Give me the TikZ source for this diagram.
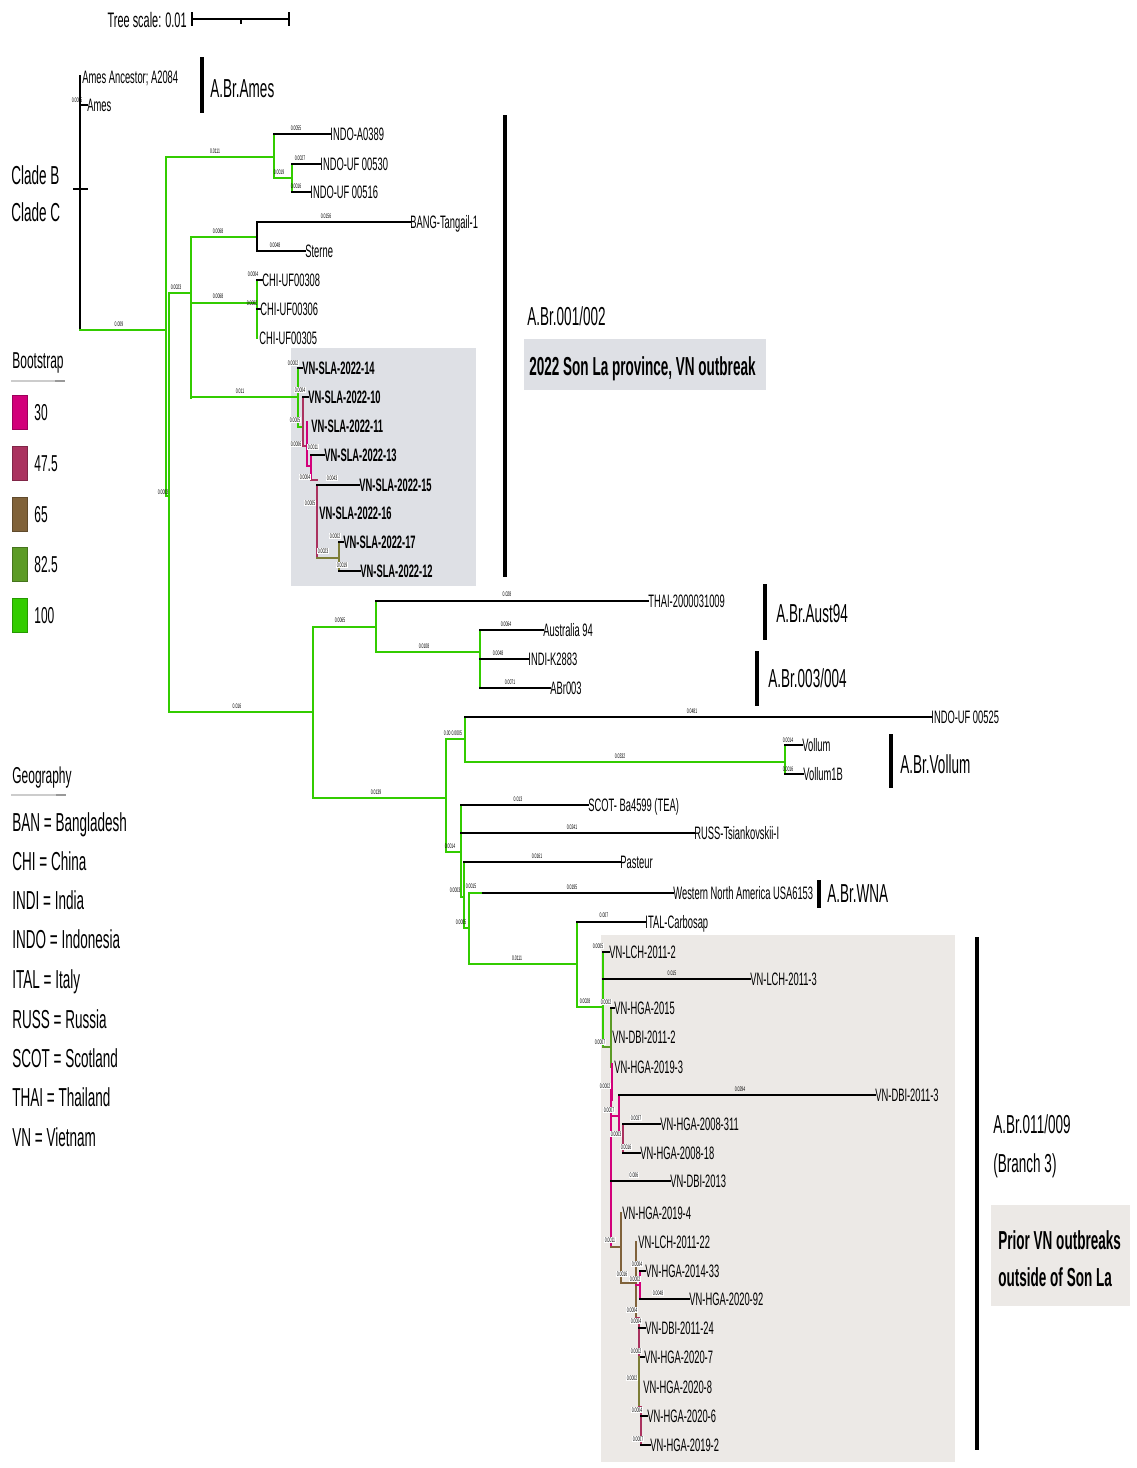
\documentclass[tikz,border=0pt]{standalone}
\usepackage{fontspec}
\setmainfont{Liberation Sans}[FakeStretch=0.52]
\definecolor{c100}{RGB}{51,204,0}
\definecolor{c82}{RGB}{92,155,38}
\definecolor{c65}{RGB}{128,98,58}
\definecolor{c47}{RGB}{170,50,95}
\definecolor{c30}{RGB}{210,0,122}
\definecolor{colv}{RGB}{125,125,55}
\definecolor{slabg}{RGB}{222,224,229}
\definecolor{vnbg}{RGB}{236,233,230}
\begin{document}
\begin{tikzpicture}[x=0.5pt,y=-0.5pt,
 lf/.style={anchor=west,inner sep=0pt,font=\fontsize{9}{9}\selectfont,text height=6.4pt,text depth=0pt},
 slf/.style={lf,font=\fontsize{9}{9}\selectfont\bfseries},
 cl/.style={anchor=west,inner sep=0pt,font=\fontsize{13}{13}\selectfont,text height=9.3pt,text depth=0pt},
 clb/.style={cl,font=\fontsize{13}{13}\selectfont\bfseries},
 lg/.style={anchor=west,inner sep=0pt,font=\fontsize{11.5}{11.5}\selectfont,text height=8.2pt,text depth=0pt},
 bl/.style={inner sep=0.2pt,font=\fontsize{3.3}{3.3}\selectfont},
 blw/.style={bl,fill=white},
 br/.style={line width=1.4pt,line cap=rect},
 bk/.style={br,draw=black},
 bg/.style={br,draw=c100},
 b82/.style={br,draw=c82},
 b65/.style={br,draw=c65},
 b47/.style={br,draw=c47},
 b30/.style={br,draw=c30},
 bol/.style={br,draw=colv},
 cbar/.style={line width=1.7pt},
]
\useasboundingbox (0,0) rectangle (1136,1468);
% backgrounds
\fill[slabg] (291,348) rectangle (476,586);
\fill[vnbg] (601,935) rectangle (955,1462);
\fill[slabg] (524,339) rectangle (766,390);
\fill[vnbg] (991,1205) rectangle (1130,1306);

% tree scale
\node[anchor=east,inner sep=0pt,font=\fontsize{10.5}{10.5}\selectfont,text height=7.5pt,text depth=0pt] (tscale) at (187,20) {Tree scale: 0.01};
\coordinate (sb1) at (192,19); \coordinate (sb2) at (289,19); \coordinate (sbm) at (241,19);
\draw[line width=1.1pt] (sb1) -- (sb2);
\draw[line width=1.1pt] ([yshift=3.5pt]sb1) -- ([yshift=-3.5pt]sb1);
\draw[line width=1.1pt] ([yshift=3.5pt]sb2) -- ([yshift=-3.5pt]sb2);
\draw[line width=0.8pt] (sbm) -- ([yshift=-2.5pt]sbm);

% root
\draw[line width=1.1pt] (80,75) -- (80,330);
\node[lf] (amesanc) at (82,77) {Ames Ancestor; A2084};
\node[lf] (ames) at (87,105) {Ames};
\draw[bk] (80,105) -- (ames.west);
\node[bl] (l01) at (77,100) {0.0005};
\draw[line width=1.1pt] (73,189) -- (88,189);
\node[cl] (cladeb) at (11,175) {Clade B};
\node[cl] (cladec) at (11,212) {Clade C};
\draw[cbar] (202,57) -- (202,113);
\node[cl] (brames) at (210,88) {A.Br.Ames};

\draw[bg] (80,330) -- (166,330); \node[bl] (l02) at (119,324) {0.009};
\draw[bg] (166,157) -- (166,496);
% INDO clade
\draw[bg] (166,157) -- (274,157); \node[bl] (l03) at (215,151) {0.0111};
\draw[bg] (274,134) -- (274,178);
\node[lf] (indoa) at (330,134) {INDO-A0389};
\draw[bk] (274,134) -- (indoa.west); \node[bl] (l04) at (296,128) {0.0055};
\draw[bg] (274,178) -- (292,178); \node[bl] (l05) at (279,172) {0.0019};
\draw[bg] (292,164) -- (292,192);
\node[lf] (indo530) at (320,164) {INDO-UF 00530};
\draw[bk] (292,164) -- (indo530.west); \node[bl] (l06) at (300,158) {0.0027};
\node[lf] (indo516) at (310,192) {INDO-UF 00516};
\draw[bk] (292,192) -- (indo516.west); \node[bl] (l07) at (296,186) {0.0016};

% N2
\draw[bg] (166,496) -- (169,496); \node[bl] (l08) at (163,492) {0.0003};
\draw[bg] (169,293) -- (169,712);
\draw[bg] (169,293) -- (191,293); \node[bl] (l09) at (176,287) {0.0023};
\draw[bg] (191,237) -- (191,398);
\draw[bg] (191,237) -- (257,237); \node[bl] (l10) at (218,231) {0.0068};
\draw[bk] (257,222) -- (257,251);
\node[lf] (bang) at (410,222) {BANG-Tangail-1};
\draw[bk] (257,222) -- (bang.west); \node[bl] (l11) at (326,216) {0.0156};
\node[lf] (sterne) at (305,251) {Sterne};
\draw[bk] (257,251) -- (sterne.west); \node[bl] (l12) at (275,245) {0.0048};
\draw[bg] (191,303) -- (257,303); \node[bl] (l13) at (218,296) {0.0068};
\draw[bg] (257,280) -- (257,338);
\node[lf] (chi308) at (262,280) {CHI-UF00308};
\draw[bk] (257,280) -- (chi308.west); \node[bl] (l14) at (253,274) {0.0004};
\node[lf] (chi306) at (260,309) {CHI-UF00306};
\draw[bk] (257,309) -- (chi306.west); \node[bl] (l15) at (252,303) {0.0002};
\node[lf] (chi305) at (259,338) {CHI-UF00305};

% SLA clade
\draw[bg] (191,397) -- (298,397); \node[bl] (l16) at (240,391) {0.011};
\draw[bg] (298,368) -- (298,427);
\draw[bg] (298,427) -- (303,427);
\node[slf] (sla14) at (302,368) {VN-SLA-2022-14};
\draw[bk] (298,368) -- (sla14.west);
\draw[b47] (303,397) -- (303,446);
\node[slf] (sla10) at (308,397) {VN-SLA-2022-10};
\draw[bk] (303,397) -- (sla10.west);
\draw[b47] (303,446) -- (307,446);
\draw[b30] (307,422) -- (307,466);
\node[slf] (sla11) at (311,426) {VN-SLA-2022-11};
\draw[b30] (307,466) -- (311,466);
\draw[b30] (311,455) -- (311,480);
\node[slf] (sla13) at (324,455) {VN-SLA-2022-13};
\draw[bk] (311,455) -- (sla13.west);
\draw[b47] (311,480) -- (317,480);
\draw[b47] (317,485) -- (317,558);
\node[slf] (sla15) at (359,485) {VN-SLA-2022-15};
\draw[bk] (317,485) -- (sla15.west);
\node[slf] (sla16) at (319,513) {VN-SLA-2022-16};
\draw[bol] (317,558) -- (339,558);
\draw[bol] (339,542) -- (339,571);
\node[slf] (sla17) at (343,542) {VN-SLA-2022-17};
\draw[bk] (339,542) -- (sla17.west);
\node[slf] (sla12) at (360,571) {VN-SLA-2022-12};
\draw[bk] (339,571) -- (sla12.west);
\node[blw] (s1) at (293,363) {0.0002};
\node[blw] (s2) at (300,390) {0.0004};
\node[blw] (s3) at (295,420) {0.0005};
\node[blw] (s4) at (296,444) {0.0006};
\node[blw] (s5) at (313,447) {0.0011};
\node[blw] (s6) at (305,477) {0.0004};
\node[blw] (s7) at (332,478) {0.0043};
\node[blw] (s8) at (310,503) {0.0005};
\node[blw] (s9) at (335,536) {0.0002};
\node[blw] (s10) at (323,551) {0.0023};
\node[blw] (s11) at (342,565) {0.0019};

\draw[cbar] (505,115) -- (505,577);
\node[cl] (br001) at (527,316) {A.Br.001/002};
\node[clb] (sonla) at (529,366) {2022 Son La province, VN outbreak};

% lower part
\draw[bg] (169,712) -- (313,712); \node[bl] (l17) at (237,706) {0.016};
\draw[bg] (313,627) -- (313,798);
\draw[bg] (313,627) -- (376,627); \node[bl] (l18) at (340,620) {0.0065};
\draw[bg] (376,601) -- (376,652);
\node[lf] (thai) at (648,601) {THAI-2000031009};
\draw[bk] (376,601) -- (thai.west); \node[bl] (l19) at (507,594) {0.028};
\draw[bg] (376,652) -- (480,652); \node[bl] (l20) at (424,646) {0.0108};
\draw[bg] (480,630) -- (480,688);
\node[lf] (aus) at (543,630) {Australia 94};
\draw[bk] (480,630) -- (aus.west); \node[bl] (l21) at (506,624) {0.0064};
\node[lf] (indi) at (528,659) {INDI-K2883};
\draw[bk] (480,659) -- (indi.west); \node[bl] (l22) at (498,653) {0.0048};
\node[lf] (abr) at (550,688) {ABr003};
\draw[bk] (480,688) -- (abr.west); \node[bl] (l23) at (510,682) {0.0071};
\draw[cbar] (765,584) -- (765,640);
\node[cl] (aust94) at (776,613) {A.Br.Aust94};
\draw[cbar] (757,651) -- (757,706);
\node[cl] (br003) at (768,678) {A.Br.003/004};

\draw[bg] (313,798) -- (446,798); \node[bl] (l24) at (376,792) {0.0139};
\draw[bg] (446,739) -- (446,852);
\draw[bg] (446,739) -- (465,739); \node[bl] (l25) at (453,733) {0.00 0.0005};
\draw[bg] (465,717) -- (465,762);
\node[lf] (indo525) at (931,717) {INDO-UF 00525};
\draw[bk] (465,717) -- (indo525.west); \node[bl] (l26) at (692,711) {0.0481};
\draw[bg] (465,762) -- (785,762); \node[bl] (l27) at (620,756) {0.0332};
\draw[bg] (785,745) -- (785,774);
\node[lf] (vollum) at (802,745) {Vollum};
\draw[bk] (785,745) -- (vollum.west); \node[bl] (l28) at (788,740) {0.0014};
\node[lf] (vollum1b) at (803,774) {Vollum1B};
\draw[bk] (785,774) -- (vollum1b.west); \node[bl] (l29) at (788,769) {0.0016};
\draw[cbar] (891,734) -- (891,788);
\node[cl] (brvollum) at (900,764) {A.Br.Vollum};

\draw[bg] (446,852) -- (461,852); \node[bl] (l30) at (450,846) {0.0014};
\draw[bg] (461,805) -- (461,897);
\node[lf] (scot) at (588,805) {SCOT- Ba4599 (TEA)};
\draw[bk] (461,805) -- (scot.west); \node[bl] (l31) at (518,799) {0.013};
\node[lf] (russ) at (694,833) {RUSS-Tsiankovskii-I};
\draw[bk] (461,833) -- (russ.west); \node[bl] (l32) at (572,827) {0.0241};
\draw[bg] (461,897) -- (464,897); \node[bl] (l33) at (455,890) {0.0003};
\draw[bg] (464,862) -- (464,928);
\node[lf] (pasteur) at (620,862) {Pasteur};
\draw[bk] (464,862) -- (pasteur.west); \node[bl] (l34) at (537,856) {0.0161};
\draw[bg] (464,928) -- (469,928); \node[bl] (l35) at (461,922) {0.0005};
\draw[bg] (469,893) -- (469,964);
\node[lf] (wna) at (673,893) {Western North America USA6153};
\draw[bg] (469,893) -- (483,893);
\draw[bk] (483,893) -- (wna.west);
\node[bl] (l36) at (471,886) {0.0015};
\node[bl] (l37) at (572,887) {0.0195};
\draw[cbar] (819,880) -- (819,908);
\node[cl] (brwna) at (827,893) {A.Br.WNA};
\draw[bg] (469,964) -- (577,964); \node[bl] (l38) at (517,958) {0.0111};
\draw[bg] (577,922) -- (577,1007);
\node[lf] (ital) at (645,922) {ITAL-Carbosap};
\draw[bk] (577,922) -- (ital.west); \node[bl] (l39) at (604,915) {0.007};
\draw[bg] (577,1007) -- (603,1007); \node[bl] (l40) at (585,1001) {0.0028};

% VN clade
\draw[bg] (603,952) -- (603,1047);
\node[lf] (lch2) at (609,952) {VN-LCH-2011-2};
\draw[bk] (603,952) -- (lch2.west);
\node[lf] (lch3) at (750,979) {VN-LCH-2011-3};
\draw[bk] (603,979) -- (lch3.west);
\draw[b82] (603,1047) -- (611,1047);
\draw[b82] (611,1008) -- (611,1067);
\node[lf] (hga2015) at (614,1008) {VN-HGA-2015};
\draw[bk] (611,1008) -- (hga2015.west);
\node[lf] (dbi2) at (612,1037) {VN-DBI-2011-2};
\node[lf] (hga193) at (614,1067) {VN-HGA-2019-3};
\draw[b30] (612,1064) -- (612,1100);
\draw[b30] (611,1085) -- (611,1247);
\draw[b30] (611,1116) -- (619,1116);
\draw[b30] (619,1095) -- (619,1132);
\node[lf] (dbi3) at (875,1095) {VN-DBI-2011-3};
\draw[bk] (619,1095) -- (dbi3.west);
\draw[b47] (619,1132) -- (623,1132);
\draw[b47] (623,1124) -- (623,1153);
\node[lf] (hga311) at (660,1124) {VN-HGA-2008-311};
\draw[bk] (623,1124) -- (hga311.west);
\node[lf] (hga18) at (640,1153) {VN-HGA-2008-18};
\draw[bk] (623,1153) -- (hga18.west);
\node[lf] (dbi2013) at (670,1181) {VN-DBI-2013};
\draw[bk] (611,1181) -- (dbi2013.west);
\draw[b65] (611,1247) -- (621,1247);
\draw[b65] (621,1213) -- (621,1283);
\node[lf] (hga194) at (622,1213) {VN-HGA-2019-4};
\draw[b65] (621,1283) -- (636,1283);
\draw[b65] (636,1242) -- (636,1318);
\node[lf] (lch22) at (638,1242) {VN-LCH-2011-22};
\draw[b30] (636,1285) -- (640,1285);
\draw[b30] (640,1271) -- (640,1299);
\node[lf] (hga1433) at (645,1271) {VN-HGA-2014-33};
\draw[bk] (640,1271) -- (hga1433.west);
\node[lf] (hga2092) at (689,1299) {VN-HGA-2020-92};
\draw[bk] (640,1299) -- (hga2092.west);
\draw[b47] (636,1318) -- (639,1318);
\draw[b47] (639,1318) -- (639,1357);
\node[lf] (dbi24) at (645,1328) {VN-DBI-2011-24};
\draw[bk] (639,1328) -- (dbi24.west);
\node[lf] (hga207) at (644,1357) {VN-HGA-2020-7};
\draw[bk] (639,1357) -- (hga207.west);
\draw[bol] (639,1357) -- (639,1407);
\node[lf] (hga208) at (643,1387) {VN-HGA-2020-8};
\draw[b47] (639,1407) -- (641,1407);
\draw[b47] (641,1407) -- (641,1445);
\node[lf] (hga206) at (647,1416) {VN-HGA-2020-6};
\draw[bk] (641,1416) -- (hga206.west);
\node[lf] (hga192) at (650,1445) {VN-HGA-2019-2};
\draw[bk] (641,1445) -- (hga192.west);
\node[blw] (v1) at (598,946) {0.0005};
\node[bl] (v2) at (672,973) {0.015};
\node[blw] (v3) at (606,1002) {0.0002};
\node[blw] (v4) at (600,1042) {0.0007};
\node[blw] (v5) at (605,1086) {0.0002};
\node[bl] (v6) at (740,1089) {0.0294};
\node[blw] (v7) at (609,1110) {0.0007};
\node[blw] (v8) at (636,1118) {0.0037};
\node[blw] (v9) at (616,1134) {0.0003};
\node[blw] (v10) at (626,1147) {0.0016};
\node[blw] (v11) at (634,1175) {0.006};
\node[blw] (v12) at (610,1240) {0.0011};
\node[blw] (v13) at (622,1274) {0.0016};
\node[blw] (v14) at (637,1264) {0.0004};
\node[blw] (v15) at (635,1279) {0.0002};
\node[blw] (v16) at (658,1293) {0.0048};
\node[blw] (v17) at (632,1310) {0.0004};
\node[blw] (v18) at (636,1321) {0.0004};
\node[blw] (v19) at (636,1351) {0.0002};
\node[blw] (v20) at (632,1378) {0.0002};
\node[blw] (v21) at (637,1410) {0.0004};
\node[blw] (v22) at (638,1439) {0.0007};

\draw[cbar] (977,937) -- (977,1450);
\node[cl] (br011) at (993,1124) {A.Br.011/009};
\node[cl] (branch3) at (993,1163) {(Branch 3)};
\node[clb] (prior1) at (998,1240) {Prior VN outbreaks};
\node[clb] (prior2) at (998,1277) {outside of Son La};

% Bootstrap legend
\node[lg] (boot) at (12,360) {Bootstrap};
\draw[line width=1pt,black!20] (11,381) -- (55,381);
\draw[line width=1pt,black!40] (55,381) -- (65,381);
\foreach \c/\v/\yy [count=\i] in {c30/30/395,c47/47.5/446,c65/65/497,c82/82.5/547,c100/100/598}{
  \filldraw[fill=\c,draw=\c!75!black,line width=0.4pt] (12,\yy) rectangle (27,\yy+34);
  \node[lg] (bs\i) at (34,\yy+17) {\v};
}
% Geography legend
\node[lg] (geo) at (12,775) {Geography};
\draw[line width=1pt,black!20] (11,795) -- (56,795);
\draw[line width=1pt,black!40] (56,795) -- (66,795);
\foreach \t/\yy [count=\i] in {BAN = Bangladesh/822,CHI = China/861,INDI = India/900,INDO = Indonesia/939,ITAL = Italy/979,RUSS = Russia/1019,SCOT = Scotland/1058,THAI = Thailand/1097,VN = Vietnam/1137}{
  \node[cl] (geo\i) at (12,\yy) {\t};
}
\end{tikzpicture}
\end{document}
